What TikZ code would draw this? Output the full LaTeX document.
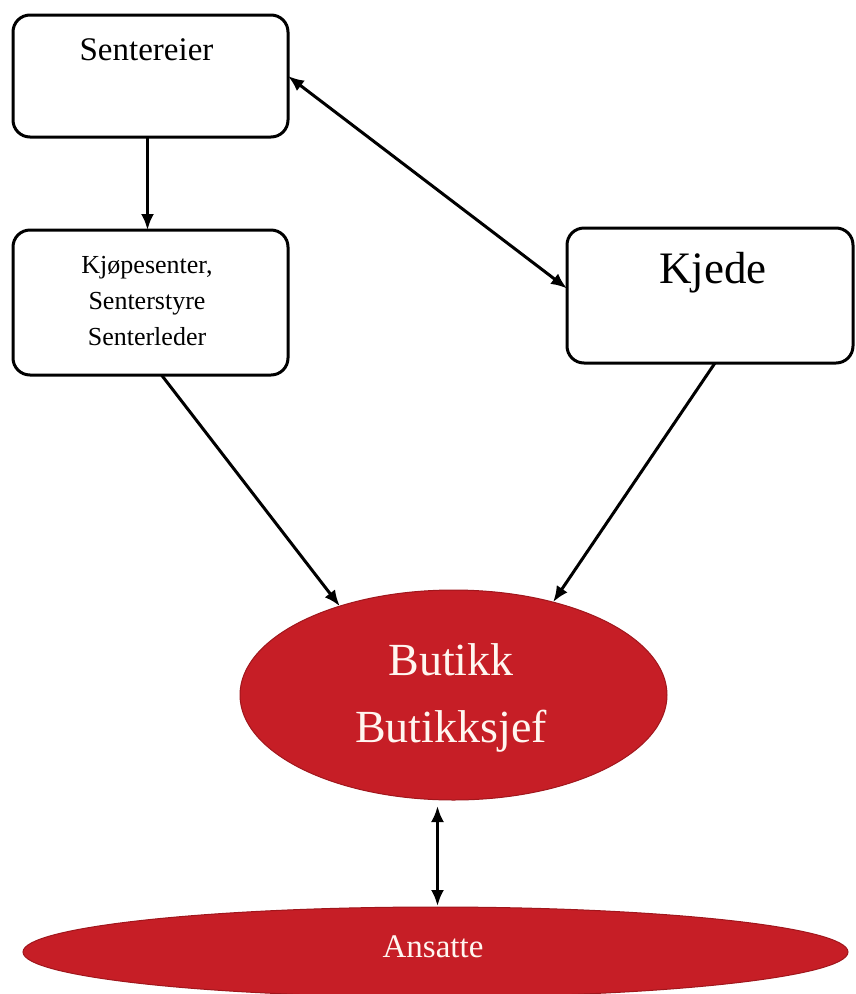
\documentclass[tikz,border=0pt]{standalone}
\usepackage{fontspec}
\setmainfont{Liberation Serif}
\usetikzlibrary{arrows.meta,shapes.geometric,calc}
\definecolor{bred}{RGB}{198,30,38}
\definecolor{bredline}{RGB}{160,22,28}
\definecolor{cream}{RGB}{255,246,240}
\begin{document}
\begin{tikzpicture}[x=1pt,y=-1pt,
 box/.style={draw=black, line width=3pt, rounded corners=17pt, fill=white, inner sep=0pt, outer sep=0pt},
 oval/.style={ellipse, fill=bred, draw=bredline, line width=1pt, inner sep=0pt, outer sep=0pt},
 lbl/.style={anchor=base, inner sep=0pt, align=center},
 conn/.style={line width=3pt, -{Latex[length=16pt,width=13pt]}},
 both/.style={line width=3pt, {Latex[length=16pt,width=13pt]}-{Latex[length=16pt,width=13pt]}}
]
\useasboundingbox (0,0) rectangle (855,994);
% boxes
\node[box, minimum width=275pt, minimum height=122pt] (sen) at (150.5,76) {};
\node[box, minimum width=275pt, minimum height=145pt] (kjo) at (150.5,302.5) {};
\node[box, minimum width=286pt, minimum height=135pt] (kje) at (710,295.5) {};
% ovals
\node[oval, minimum width=427pt, minimum height=210pt] (but) at (453.5,695) {};
\node[oval, minimum width=825pt, minimum height=90pt] (ans) at (435.5,952) {};
% labels
\node[lbl, font=\fontsize{33}{40}\selectfont] (sentxt) at (146.5,60) {Sentereier};
\node[lbl, font=\fontsize{26}{36}\selectfont] (kjotxt) at (147,345) {Kjøpesenter,\\Senterstyre\\Senterleder};
\node[lbl, font=\fontsize{45}{54}\selectfont] (kjetxt) at (713,283) {Kjede};
\node[lbl, text=cream, font=\fontsize{46}{67}\selectfont] (buttxt) at (451,742) {Butikk\\Butikksjef};
\node[lbl, text=cream, font=\fontsize{33}{40}\selectfont] (anstxt) at (433,957) {Ansatte};
% connectors
\draw[conn] ($(sen.south)+(-3,0)$) -- ($(kjo.north)+(-3,0)$);
\draw[both] (sen.east) -- ($(kje.west)+(0,-7)$);
\draw[conn] ($(kjo.south)+(11,0)$) -- (but.142);
\draw[conn] ($(kje.south)+(5,0)$) -- (but.43);
\draw[both, shorten <=6pt, shorten >=1pt] ($(but.south)+(-16,0)$) -- ($(ans.north)+(2,0)$);
\end{tikzpicture}
\end{document}
